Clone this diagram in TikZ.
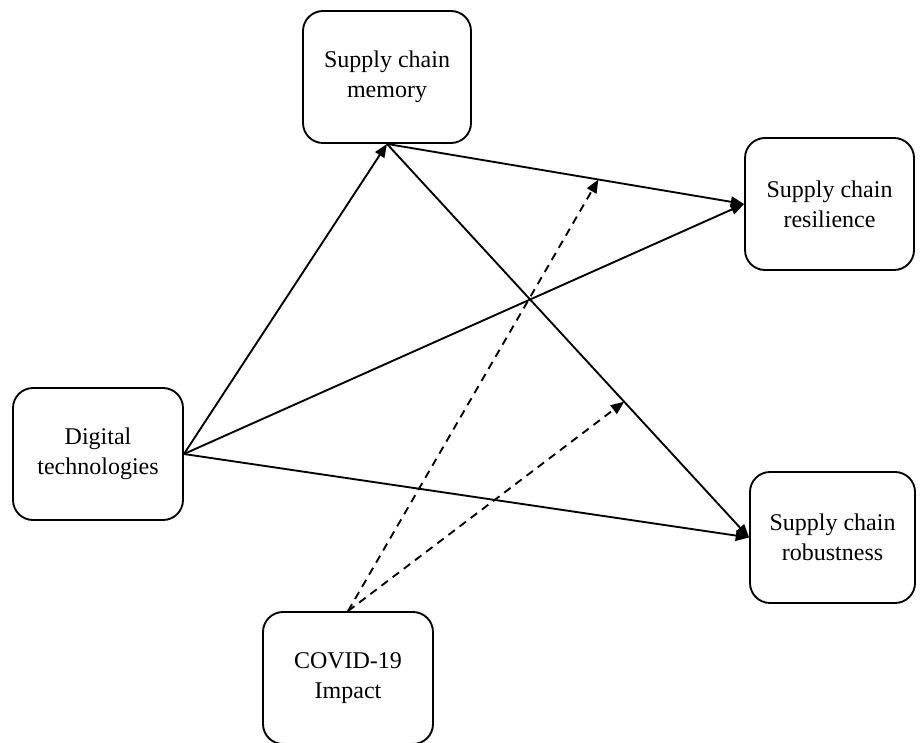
\documentclass[tikz,border=0pt]{standalone}
\usepackage{fontspec}
\setmainfont{Liberation Serif}
\usetikzlibrary{arrows.meta,calc}
\begin{document}
\begin{tikzpicture}[x=0.75pt,y=-0.75pt,
  box/.style={draw,line width=1.4pt,rounded corners=15pt,align=center,
    font=\fontsize{18}{22.5}\selectfont,inner sep=0pt},
  link/.style={line width=1.4pt,-{Triangle[length=10pt,width=8pt]}},
  dlink/.style={line width=1.4pt,dash pattern=on 6pt off 4.5pt,-{Triangle[length=10pt,width=8pt]}}]
\useasboundingbox (0,0) rectangle (923,742);
\clip (0,0) rectangle (923,742);
\node[box,minimum width=126pt,minimum height=99pt] (mem) at (387,77) {Supply chain\\memory};
\node[box,minimum width=127.5pt,minimum height=99pt] (dig) at (98,454) {Digital\\technologies};
\node[box,minimum width=127.5pt,minimum height=99pt] (cov) at (348,678) {COVID-19\\Impact};
\node[box,minimum width=126.75pt,minimum height=99pt] (res) at (829.5,204) {Supply chain\\resilience};
\node[box,minimum width=123.75pt,minimum height=98.25pt] (rob) at (832.5,537.5) {Supply chain\\robustness};
\coordinate (m1) at ($(mem.south)!0.592!(res.west)$);
\coordinate (m2) at ($(mem.south)!0.655!(rob.west)$);
\draw[link] (dig.east) -- (mem.south);
\draw[link] (mem.south) -- (res.west);
\draw[link] (mem.south) -- (rob.west);
\draw[link] (dig.east) -- (res.west);
\draw[link] (dig.east) -- (rob.west);
\draw[dlink] (cov.north) -- (m1);
\draw[dlink] (cov.north) -- (m2);
\end{tikzpicture}
\end{document}
